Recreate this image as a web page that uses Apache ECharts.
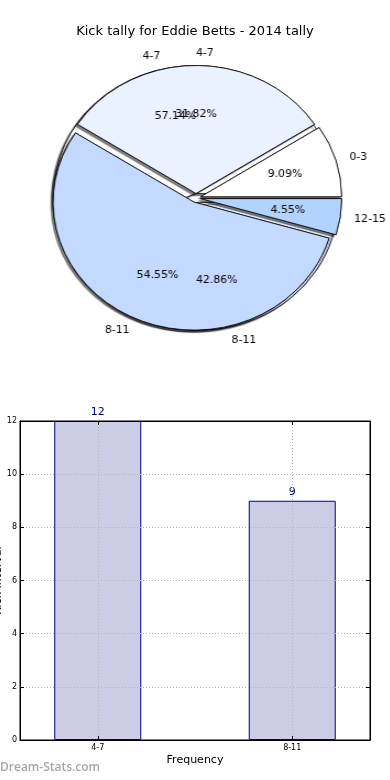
<!DOCTYPE html>
<html>
<head>
<meta charset="utf-8">
<script src="https://cdn.jsdelivr.net/npm/echarts@6/dist/echarts.min.js"></script>
<style>
html,body{margin:0;padding:0;background:#fff}
#wrap{position:relative;width:390px;height:780px}
#c{position:absolute;left:0;top:0;width:390px;height:780px}
#p{position:absolute;left:0;top:0;width:390px;height:370px;transform:scaleX(1.1);transform-origin:196px 198px}
</style>
</head>
<body>
<div id="wrap"><div id="c"></div><div id="p"></div></div>
<script>
const pieTitle = 'Kick tally for Eddie Betts - 2014 tally';
const pie1Labels = ['0-3', '4-7', '8-11', '12-15'];
const pie1Values = [2, 7, 12, 1];
const pie1Colors = ['#ffffff', '#eaf1ff', '#c4d9ff', '#b3d3ff'];
const pie2Labels = ['4-7', '8-11'];
const pie2Values = [12, 9];
const pie2Colors = ['#ffffff', '#eaf1ff'];
const barCategories = ['4-7', '8-11'];
const barValues = [12, 9];
const barXName = 'Frequency';
const barYName = 'Kick Interval';
const watermark = 'Dream-Stats.com';

const FONT = 'DejaVu Sans';
const PFONT = "'DejaVu Sans Condensed', 'DejaVu Sans'";
const CX = 196, CY = 198, R = 128, OFF = 4.5;

function pct(values) {
  const s = values.reduce((a, b) => a + b, 0);
  return values.map(v => (v / s * 100).toFixed(2) + '%');
}
function pieData(labels, values, colors, transparent) {
  return labels.map((n, i) => ({
    name: n, value: values[i], selected: true,
    itemStyle: { color: transparent ? 'rgba(0,0,0,0)' : colors[i] }
  }));
}
const basePie = {
  type: 'pie', center: [CX, CY], startAngle: 0, clockwise: false,
  selectedMode: 'multiple', selectedOffset: OFF, avoidLabelOverlap: false,
  animation: false, emphasis: { disabled: true }, silent: true,
  labelLayout: { hideOverlap: false }
};
function visiblePie(labels, values, colors, z, shadow, withLabel) {
  return Object.assign({}, basePie, {
    z: z, radius: [0, R],
    data: pieData(labels, values, colors, false),
    itemStyle: shadow
      ? { borderColor: '#000', borderWidth: 0.8, shadowColor: 'rgba(0,0,0,0.5)', shadowBlur: 1, shadowOffsetX: -2, shadowOffsetY: 2 }
      : { borderColor: '#000', borderWidth: 0.8 },
    label: withLabel
      ? { show: true, position: 'outside', fontFamily: PFONT, fontSize: 11, color: '#000', alignTo: 'none', distanceToLabelLine: 0 }
      : { show: false },
    labelLine: { show: false, length: R * 0.1, length2: 0 }
  });
}
function pctPie(labels, values, z) {
  const p = pct(values);
  return Object.assign({}, basePie, {
    z: z, radius: [0, R * 1.2],
    data: pieData(labels, values, null, true),
    itemStyle: { borderWidth: 0 },
    label: { show: true, position: 'inside', fontFamily: PFONT, fontSize: 11, color: '#000',
      formatter: (pr) => p[pr.dataIndex] },
    labelLine: { show: false }
  });
}

const gridLine = { show: true, lineStyle: { color: '#b4b4b4', type: [1, 2], width: 1 } };
const chart = echarts.init(document.getElementById('c'), null, { renderer: 'canvas' });
chart.setOption({
  backgroundColor: '#fff',
  animation: false,
  title: { text: pieTitle, left: 'center', top: 20, textStyle: { fontFamily: FONT, fontSize: 13, fontWeight: 'normal', color: '#000' } },
  graphic: [{ type: 'text', left: 0, top: 762, style: { text: watermark, fontFamily: 'Open Sans', fontWeight: 600, fontSize: 12, fill: '#a6a6a6' } }],
  grid: { left: 20, right: 20, top: 421, bottom: 40, containLabel: false, outerBoundsMode: 'none',
    show: true, borderColor: '#000', borderWidth: 1, backgroundColor: 'transparent' },
  xAxis: [{
    type: 'value', min: -0.4, max: 1.4, position: 'bottom', z: 5,
    name: barXName, nameLocation: 'middle', nameGap: 15, nameMoveOverlap: false,
    nameTextStyle: { fontFamily: FONT, fontSize: 11, color: '#000' },
    axisLine: { show: true, onZero: false, lineStyle: { color: '#000' } },
    axisTick: { show: true, inside: true, length: 4, customValues: [0, 1], lineStyle: { color: '#000' } },
    axisLabel: { show: true, customValues: [0, 1], fontFamily: FONT, fontSize: 8, color: '#000', margin: 4,
      formatter: (v) => barCategories[Math.round(v)] },
    splitLine: gridLine
  }, {
    type: 'value', min: -0.4, max: 1.4, position: 'top', z: 5,
    axisLine: { show: true, onZero: false, lineStyle: { color: '#000' } },
    axisTick: { show: true, inside: true, length: 4, customValues: [0, 1], lineStyle: { color: '#000' } },
    axisLabel: { show: false, customValues: [0, 1] },
    splitLine: { show: false }
  }],
  yAxis: [{
    type: 'value', min: 0, max: 12, interval: 2, position: 'left', z: 5,
    name: barYName, nameLocation: 'middle', nameGap: 16, nameMoveOverlap: false,
    nameTextStyle: { fontFamily: FONT, fontSize: 11, color: '#000' },
    axisLine: { show: true, onZero: false, lineStyle: { color: '#000' } },
    axisTick: { show: true, inside: true, length: 4, lineStyle: { color: '#000' } },
    axisLabel: { fontFamily: FONT, fontSize: 8, color: '#000', margin: 3 },
    splitLine: gridLine
  }, {
    type: 'value', min: 0, max: 12, interval: 2, position: 'right', z: 5,
    axisLine: { show: true, onZero: false, lineStyle: { color: '#000' } },
    axisTick: { show: true, inside: true, length: 4, lineStyle: { color: '#000' } },
    axisLabel: { show: false },
    splitLine: { show: false }
  }],
  series: [{
    type: 'bar', xAxisIndex: 0, yAxisIndex: 0, z: 2,
    data: barValues.map((v, i) => [i, v]),
    barWidth: 87,
    itemStyle: { color: '#ccccE6', borderColor: '#000080', borderWidth: 1 },
    label: { show: true, position: 'top', distance: 3, fontFamily: FONT, fontSize: 11, color: '#000080' },
    silent: true
  }]
});

const pie = echarts.init(document.getElementById('p'), null, { renderer: 'canvas' });
pie.setOption({
  animation: false,
  series: [
    visiblePie(pie2Labels, pie2Values, pie2Colors, 2, true, true),
    visiblePie(pie1Labels, pie1Values, pie1Colors, 3, true, false),
    visiblePie(pie1Labels, pie1Values, pie1Colors, 4, false, true),
    pctPie(pie2Labels, pie2Values, 6),
    pctPie(pie1Labels, pie1Values, 6)
  ]
});
</script>
</body>
</html>
